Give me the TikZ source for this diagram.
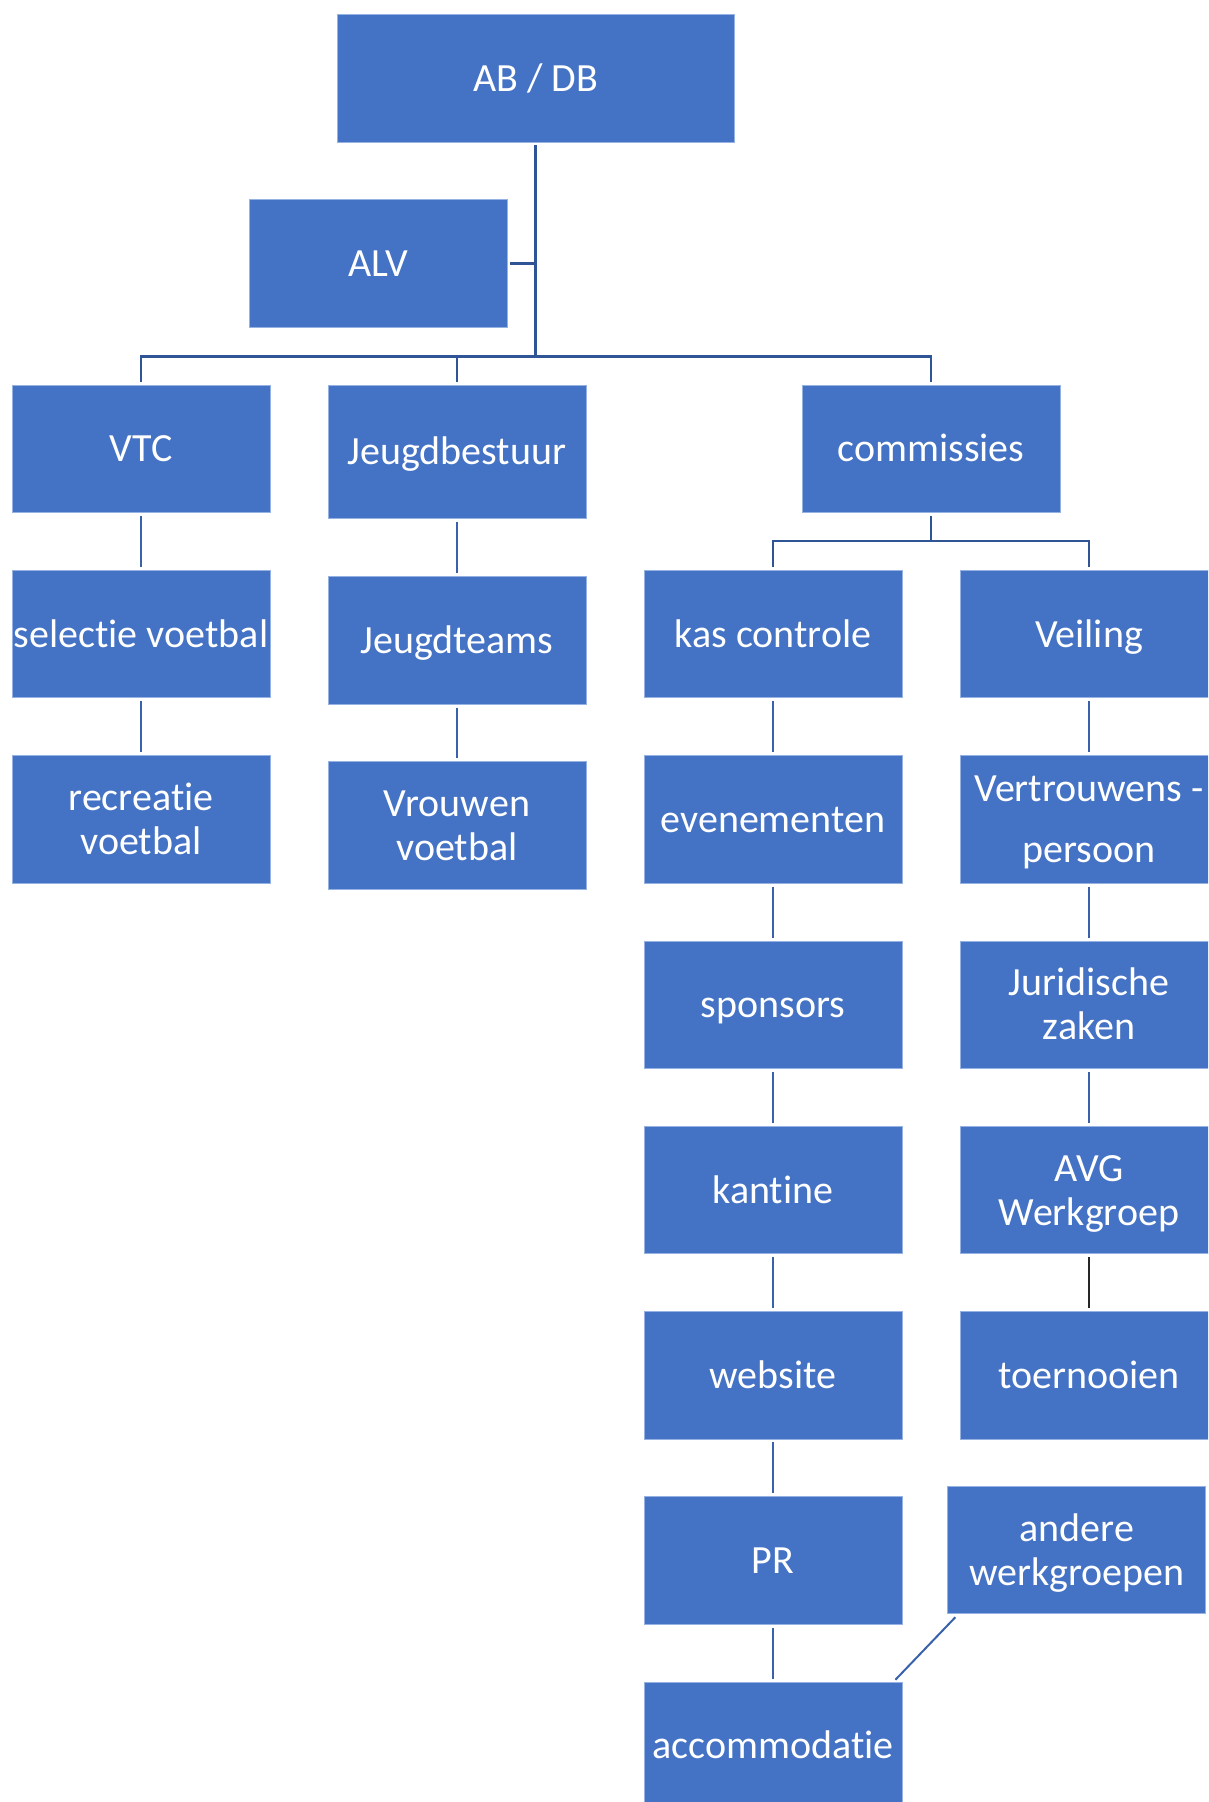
\documentclass[tikz,border=0pt]{standalone}
\usepackage{fontspec}
\setmainfont{Carlito}[Ligatures=NoCommon]
\definecolor{boxblue}{RGB}{68,114,196}
\definecolor{boxedge}{RGB}{150,178,226}
\definecolor{treeline}{RGB}{47,85,151}
\definecolor{chainline}{RGB}{58,98,172}
\newcommand\boxstrut{\rule[-12pt]{0pt}{50pt}}
\begin{document}
\begin{tikzpicture}[x=1pt,y=-1pt,
  box/.style={rectangle, fill=boxblue, draw=boxedge, line width=0.8pt,
    minimum width=258pt, minimum height=127.5pt, inner sep=0pt,
    text=white, align=center, font=\fontsize{40}{44}\selectfont,
    execute at begin node=\boxstrut, execute at end node=\boxstrut},
  tree/.style={draw=treeline, line width=2.6pt},
  chainc/.style={draw=chainline, line width=2pt},
  thin/.style={draw=black!85, line width=1.5pt}]
\useasboundingbox (0,0) rectangle (1208,1802);
\clip (0,0) rectangle (1208,1802);

% top
\node[box, minimum width=397pt] (ab) at (535.5,78.2) {AB / DB};
\node[box] (alv) at (378,263.2) {ALV};

% row 1
\node[box] (vtc) at (141,448.8) {VTC};
\node[box, minimum height=133.6pt] (jb) at (457,451.8) {Jeugdbestuur};
\node[box] (com) at (931,448.8) {commissies};

% column 1
\node[box] (sel) at (141,634) {selectie voetbal};
\node[box] (rec) at (141,819.4) {\boxstrut recreatie\\voetbal};

% column 2
\node[box] (jt) at (457,640.4) {Jeugdteams};
\node[box] (vv) at (457,825.5) {\boxstrut Vrouwen\\voetbal};

% column 3
\node[box] (kas) at (773,634) {kas controle};
\node[box] (eve) at (773,819.4) {evenementen};
\node[box] (spo) at (773,1004.7) {sponsors};
\node[box] (kan) at (773,1190) {kantine};
\node[box] (web) at (773,1375.3) {website};
\node[box] (pr) at (773,1560.6) {PR};
\node[box] (acc) at (773,1745.9) {accommodatie};

% column 4
\node[box] (vei) at (1089,634) {Veiling};
\node[box, font=\fontsize{40}{61}\selectfont] (ver) at (1089,819.4) {\boxstrut Vertrouwens -\\persoon};
\node[box] (jur) at (1089,1004.7) {\boxstrut Juridische\\zaken};
\node[box] (avg) at (1089,1190) {\boxstrut AVG\\Werkgroep};
\node[box] (toe) at (1089,1375.3) {toernooien};
\node[box] (and) at (1076.7,1550.1) {\boxstrut andere\\werkgroepen};

% tree connectors
\coordinate (bus) at (0,356.5);
\coordinate (cbus) at (0,541);
\draw[tree] ([yshift=-3pt]ab.south) -- (ab.south |- bus);
\draw[tree] ([xshift=3pt]alv.east) -- (alv.east -| ab.south);
\draw[tree] ([yshift=3pt]vtc.north) |- (com.north |- bus) -- ([yshift=3pt]com.north);
\draw[tree] ([yshift=3pt]jb.north) -- (jb.north |- bus);
\draw[tree] ([yshift=-3pt]com.south) -- (com.south |- cbus);
\draw[tree] ([yshift=3pt]kas.north) |- (vei.north |- cbus) -- ([yshift=3pt]vei.north);

% chains
\draw[chainc] ([yshift=-3pt]vtc.south) -- ([yshift=3pt]sel.north);
\draw[chainc] ([yshift=-3pt]sel.south) -- ([yshift=3pt]rec.north);
\draw[chainc] ([yshift=-3pt]jb.south) -- ([yshift=3pt]jt.north);
\draw[chainc] ([yshift=-3pt]jt.south) -- ([yshift=3pt]vv.north);
\draw[chainc] ([yshift=-3pt]kas.south) -- ([yshift=3pt]eve.north);
\draw[chainc] ([yshift=-3pt]eve.south) -- ([yshift=3pt]spo.north);
\draw[chainc] ([yshift=-3pt]spo.south) -- ([yshift=3pt]kan.north);
\draw[chainc] ([yshift=-3pt]kan.south) -- ([yshift=3pt]web.north);
\draw[chainc] ([yshift=-3pt]web.south) -- ([yshift=3pt]pr.north);
\draw[chainc] ([yshift=-3pt]pr.south) -- ([yshift=3pt]acc.north);
\draw[chainc] ([yshift=-3pt]vei.south) -- ([yshift=3pt]ver.north);
\draw[chainc] ([yshift=-3pt]ver.south) -- ([yshift=3pt]jur.north);
\draw[chainc] ([yshift=-3pt]jur.south) -- ([yshift=3pt]avg.north);
\draw[thin] ([yshift=-3pt]avg.south) -- ([yshift=3pt]toe.north);
\draw[chainc] ([shift={(8pt,-3pt)}]and.south west) -- ([shift={(-7pt,2pt)}]acc.north east);
\end{tikzpicture}
\end{document}
